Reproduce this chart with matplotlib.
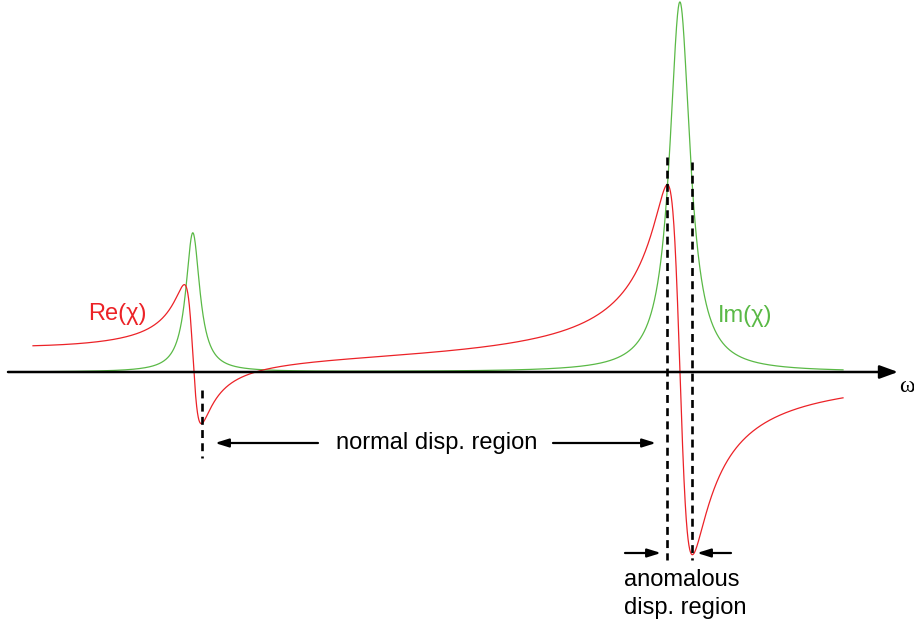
import numpy as np
import matplotlib
matplotlib.use("Agg")
import matplotlib.pyplot as plt

# resonances (omega in arbitrary units)
omega0 = [193, 680]      # resonance frequencies
gamma = [17, 25]         # damping widths
peak = [139, 370]        # height of Im(chi) at each resonance
w_start, w_end = 33, 843

plt.rcParams['font.family'] = ['Liberation Sans', 'DejaVu Sans']

w = np.linspace(w_start, w_end, 4000)
chi = np.zeros_like(w, dtype=complex)
for w0, g, h in zip(omega0, gamma, peak):
    f = h * g * w0
    chi += f / (w0**2 - w**2 - 1j * g * w)

fig = plt.figure(figsize=(9.14, 6.27), dpi=100)
ax = fig.add_axes([0, 0, 1, 1])
ax.set_xlim(0, 914)
ax.set_ylim(-255, 372)
ax.axis("off")

red = '#ec2227'
green = '#5ab946'
ax.plot(w, chi.imag, color=green, lw=0.9)
ax.plot(w, chi.real, color=red, lw=0.9)

# omega axis
ax.annotate('', xy=(898, 0), xytext=(8, 0),
            arrowprops=dict(arrowstyle='-|>,head_length=1.1,head_width=0.4',
                            color='black', lw=1.8, shrinkA=0, shrinkB=0))
ax.text(899, -14, 'ω', fontsize=17, family='Liberation Serif', va='center', ha='left')

# dashed markers
dash = dict(color='black', lw=1.9, ls=(0, (3, 2)))
ax.plot([202, 202], [-18, -86], **dash)
ax.plot([667, 667], [215, -188], **dash)
ax.plot([692, 692], [210, -188], **dash)

arrow = dict(arrowstyle='-|>,head_length=0.8,head_width=0.25', color='black',
             lw=1.6, shrinkA=0, shrinkB=0)
ax.annotate('', xy=(215, -71), xytext=(318, -71), arrowprops=arrow)
ax.annotate('', xy=(656, -71), xytext=(553, -71), arrowprops=arrow)
ax.text(437, -71, 'normal disp. region', fontsize=17, ha='center', va='center')

ax.annotate('', xy=(661, -181), xytext=(625, -181), arrowprops=arrow)
ax.annotate('', xy=(697, -181), xytext=(731, -181), arrowprops=arrow)
ax.text(624, -222, 'anomalous\ndisp. region', fontsize=17, ha='left', va='center',
        linespacing=1.3)

ax.text(88, 58, 'Re(χ)', fontsize=17, color=red, ha='left', va='center')
ax.text(718, 56, 'Im(χ)', fontsize=17, color=green, ha='left', va='center')

fig.savefig('out.png', dpi=100)
